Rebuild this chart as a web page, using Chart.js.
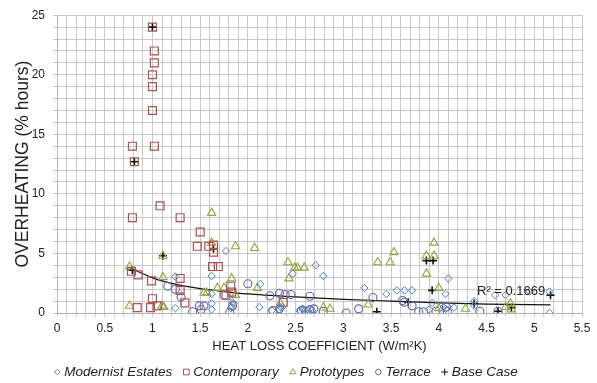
<!DOCTYPE html>
<html>
<head>
<meta charset="utf-8">
<script src="https://cdn.jsdelivr.net/npm/chart.js@4/dist/chart.umd.min.js"></script>
<style>
  html, body { margin: 0; padding: 0; background: #fff; }
  #wrap { width: 597px; height: 383px; position: relative; }
</style>
</head>
<body>
<div id="wrap"><canvas id="chart"></canvas></div>
<script>
const xTickLabels = ['0', '0.5', '1', '1.5', '2', '2.5', '3', '3.5', '4', '4.5', '5', '5.5'];
const yTickLabels = ['0', '5', '10', '15', '20', '25'];

const seriesNames = ['Modernist Estates', 'Contemporary', 'Prototypes', 'Terrace', 'Base Case'];

const modernistX = [1.77, 1.62, 1.24, 2.13, 1.62, 1.62, 1.62, 1.24, 2.12, 1.85, 1.83, 2.34, 2.47, 2.54,
  2.71, 2.79, 3.22, 3.45, 3.56, 3.64, 3.72, 4.1, 4.07, 3.93, 4.37, 2.65, 2.64, 2.57, 3.9, 4.07, 4.16,
  4.59, 4.7, 4.95, 5.16, 5.16, 4.37, 4.05, 2.25, 2.33, 2.36, 2.58, 2.67, 1.84, 1.82];
const modernistY = [5.2, 3.1, 3.05, 2.45, 1.6, 0.8, 0.3, 0.4, 0.5, 0.8, 0.5, 0.5, 3.3, 0.2,
  4.0, 3.1, 2.1, 1.6, 1.9, 1.9, 1.9, 2.9, 1.6, 0.85, 1.0, 0.35, 0.0, 0.35, 0.3, 0.35, 0.45,
  1.5, 1.5, 1.8, 1.8, 0.0, 0.6, 0.5, 0.2, 0.3, 0.5, 0.35, 0.2, 0.9, 0.4];

const contemporaryX = [1.0, 1.02, 1.02, 1.0, 1.0, 1.0, 0.79, 1.02, 0.81, 1.08, 0.79, 1.29, 1.5, 1.47,
  1.59, 1.64, 1.64, 1.63, 1.69, 0.78, 0.85, 0.99, 1.29, 1.29, 1.0, 1.34, 0.84, 0.98, 1.05, 1.82,
  1.83, 1.77, 2.37];
const contemporaryY = [24, 22, 21, 20, 19, 17, 14, 14, 12.7, 9.0, 8.0, 8.0, 6.8, 5.6,
  5.6, 5.7, 5.1, 3.9, 3.9, 3.5, 3.2, 2.7, 2.9, 1.9, 1.2, 0.85, 0.45, 0.45, 0.6, 2.25,
  1.75, 1.5, 0.9];

const prototypesX = [1.62, 1.11, 1.87, 2.07, 1.62, 0.76, 1.11, 1.83, 1.68, 1.75, 1.54, 1.57, 0.76, 1.1,
  1.12, 2.42, 2.49, 2.52, 2.59, 2.43, 2.1, 2.34, 1.87, 3.36, 3.49, 3.53, 3.87, 3.95, 3.95, 3.87,
  4.0, 3.26, 2.79, 2.86, 4.28, 4.0, 4.7, 4.75, 4.76];
const prototypesY = [8.4, 4.8, 5.6, 5.45, 5.9, 3.9, 3.0, 2.9, 2.1, 2.1, 1.7, 1.7, 0.6, 0.6,
  0.5, 4.25, 3.8, 3.8, 3.8, 2.9, 2.1, 0.8, 1.5, 4.25, 4.25, 5.1, 4.8, 5.9, 4.8, 3.3,
  2.1, 0.7, 0.45, 0.35, 0.35, 0.4, 0.5, 0.8, 0.3];

const terraceX = [1.16, 1.24, 1.3, 1.42, 1.49, 1.54, 1.51, 1.75, 1.81, 1.84, 2.0, 2.23, 2.33, 2.39,
  2.45, 2.33, 2.26, 2.65, 2.56, 2.61, 2.65, 2.69, 2.79, 3.03, 3.16, 3.31, 3.62, 3.64, 3.72, 3.79,
  3.84, 3.97, 4.09, 4.08, 4.43, 4.62];
const terraceY = [2.25, 2.0, 1.35, 0.1, 0.6, 0.6, 0.3, 1.5, 0.05, 0.6, 2.45, 1.45, 1.65, 1.55,
  1.55, 0.35, 0.2, 1.4, 0.2, 0.15, 0.3, 0.35, 0.15, 0.0, 0.35, 1.3, 1.05, 0.9, 0.6, 0.1,
  0.1, 0.15, 0.15, 0.5, 0.15, 0.15];

const baseCaseX = [1.0, 0.81, 1.11, 1.64, 0.79, 3.87, 3.94, 3.93, 3.35, 3.68, 4.37, 4.76, 5.17, 4.62];
const baseCaseY = [24, 12.7, 4.8, 5.4, 3.6, 4.4, 4.4, 1.9, 0.1, 0.9, 0.8, 0.45, 1.5, 0.15];

// trend line
const trendX = [0.76, 0.9, 1.0, 1.25, 1.5, 1.75, 2.0, 2.5, 3.0, 3.5, 4.0, 4.5, 5.17];
const trendY = [3.8, 3.3, 2.95, 2.4, 2.05, 1.8, 1.6, 1.35, 1.15, 1.0, 0.85, 0.75, 0.68];

const r2Label = 'R\u00b2 = 0.1669';
const r2Anchor = { x: 4.4, y: 1.85 };

const FONT = "'Liberation Sans', Arial, sans-serif";

const zip = (xs, ys) => xs.map((x, i) => ({ x, y: ys[i] }));

const markerSet = (label, xs, ys, color, style, radius, width, legendRadius) => ({
  label,
  data: zip(xs, ys),
  pointStyle: style,
  pointRadius: radius,
  pointHoverRadius: radius,
  pointBorderColor: color,
  borderColor: color,
  pointBackgroundColor: 'rgba(255,255,255,0)',
  backgroundColor: 'rgba(255,255,255,0)',
  pointBorderWidth: width,
  borderWidth: width,
  showLine: false,
  legendRadius,
});

const r2Plugin = {
  id: 'r2',
  afterDatasetsDraw(chart) {
    const { ctx, scales } = chart;
    ctx.save();
    ctx.font = `13px ${FONT}`;
    ctx.fillStyle = '#222';
    ctx.textBaseline = 'middle';
    ctx.fillText(r2Label, scales.x.getPixelForValue(r2Anchor.x), scales.y.getPixelForValue(r2Anchor.y));
    ctx.restore();
  },
};

// legend drawn by hand so it can sit tight under the axis title
const legendPlugin = {
  id: 'bottomLegend',
  afterDraw(chart) {
    const { ctx } = chart;
    const items = chart.data.datasets.filter((d) => d.legendRadius);
    const markGap = 10;
    const itemGap = 11;
    ctx.save();
    ctx.font = `italic 13.5px ${FONT}`;
    ctx.textBaseline = 'middle';
    const widths = items.map((d) => ctx.measureText(d.label).width);
    const total = widths.reduce((a, w) => a + w + markGap, 0) + itemGap * (items.length - 1);
    let x = 286 - total / 2;
    const y = 372;
    items.forEach((d, i) => {
      ctx.strokeStyle = d.borderColor;
      ctx.fillStyle = 'rgba(255,255,255,0)';
      ctx.lineWidth = 1;
      Chart.helpers.drawPoint(ctx, {
        pointStyle: d.pointStyle,
        radius: d.legendRadius,
        borderWidth: 1,
        rotation: 0,
      }, x + 3, y);
      ctx.fillStyle = '#222';
      ctx.fillText(d.label, x + markGap, y);
      x += markGap + widths[i] + itemGap;
    });
    ctx.restore();
  },
};

const isMajor = (v, step) => Math.abs(v / step - Math.round(v / step)) < 1e-6;

new Chart(document.getElementById('chart'), {
  type: 'scatter',
  data: {
    datasets: [
      markerSet(seriesNames[0], modernistX, modernistY, '#4f7fb8', 'rectRot', 3.7, 1, 2.8),
      markerSet(seriesNames[1], contemporaryX, contemporaryY, '#a9524f', 'rect', 5.6, 1.2, 4),
      markerSet(seriesNames[2], prototypesX, prototypesY, '#8ea83c', 'triangle', 4.8, 1.1, 3.4),
      markerSet(seriesNames[3], terraceX, terraceY, '#6662a4', 'circle', 4, 1.1, 2.8),
      {
        label: 'trend',
        data: zip(trendX, trendY),
        showLine: true,
        pointRadius: 0,
        borderColor: '#111',
        borderWidth: 1.2,
        cubicInterpolationMode: 'monotone',
      },
      markerSet(seriesNames[4], baseCaseX, baseCaseY, '#111', 'cross', 4, 1.6, 3.4),
    ],
  },
  options: {
    responsive: true,
    maintainAspectRatio: false,
    animation: false,
    layout: { padding: { left: 0, right: 15, top: 11, bottom: 20 } },
    scales: {
      x: {
        type: 'linear',
        min: 0,
        max: 5.5,
        afterFit: (s) => { s.height = 50; },
        ticks: {
          stepSize: 0.1,
          autoSkip: false,
          maxRotation: 0,
          padding: 4,
          color: '#222',
          font: { family: FONT, size: 12 },
          callback: (v) => {
            if (!isMajor(v, 0.5)) return '';
            return xTickLabels[Math.round(v / 0.5)];
          },
        },
        grid: {
          color: '#c8c8c8',
          tickLength: 4,
        },
        border: { color: '#b0b0b0' },
        title: {
          display: true,
          text: 'HEAT LOSS COEFFICIENT (W/m\u00b2K)',
          color: '#222',
          font: { family: FONT, size: 13 },
          padding: { top: 2, bottom: 8.5 },
        },
      },
      y: {
        min: 0,
        max: 25,
        afterFit: (s) => { s.width = 57; },
        ticks: {
          stepSize: 1,
          autoSkip: false,
          padding: 8,
          color: '#222',
          font: { family: FONT, size: 12 },
          callback: (v) => {
            if (!isMajor(v, 5)) return '';
            return yTickLabels[Math.round(v / 5)];
          },
        },
        grid: {
          color: '#c8c8c8',
          tickLength: 4,
        },
        border: { color: '#b0b0b0' },
        title: {
          display: true,
          text: 'OVERHEATING (% hours)',
          color: '#222',
          font: { family: FONT, size: 17.5 },
          padding: { top: 13, bottom: 0 },
        },
      },
    },
    plugins: {
      tooltip: { enabled: false },
      legend: { display: false },
    },
  },
  plugins: [r2Plugin, legendPlugin],
});
</script>
</body>
</html>
